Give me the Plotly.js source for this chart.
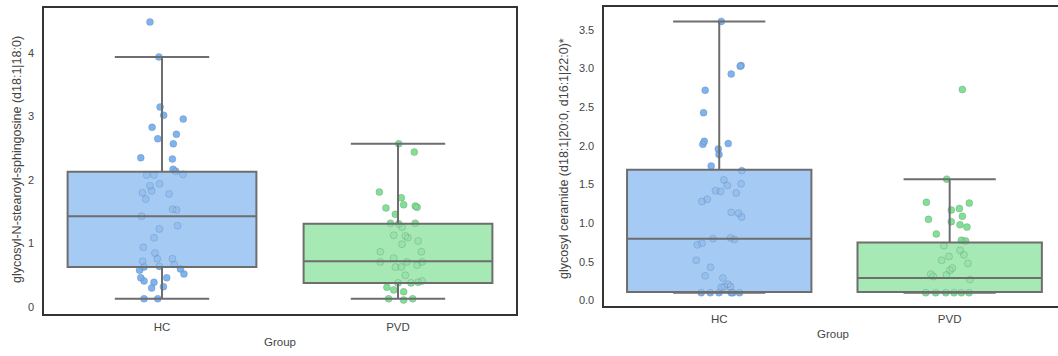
<!DOCTYPE html>
<html>
<head>
<meta charset="utf-8">
<script src="https://cdn.plot.ly/plotly-3.0.1.min.js"></script>
<style>
html,body{margin:0;padding:0;background:#fff;}
#chart{width:1058px;height:356px;}
</style>
</head>
<body>
<div id="chart"></div>
<script>
// ---------- data ----------
const categories = ["HC", "PVD"];
const xTitle = "Group";
const leftYTitle = "glycosyl-N-stearoyl-sphingosine (d18:1|18:0)";
const rightYTitle = "glycosyl ceramide (d18:1|20:0, d16:1|22:0)*";
const leftYTicks = [0, 1, 2, 3, 4];
const rightYTicks = [0, 0.5, 1, 1.5, 2, 2.5, 3, 3.5];

// box statistics [HC, PVD]
const leftQ1 = [0.63, 0.38];
const leftMedian = [1.43, 0.72];
const leftQ3 = [2.13, 1.31];
const leftLow = [0.13, 0.13];
const leftHigh = [3.94, 2.57];

const rightQ1 = [0.11, 0.11];
const rightMedian = [0.80, 0.29];
const rightQ3 = [1.69, 0.75];
const rightLow = [0.10, 0.10];
const rightHigh = [3.61, 1.57];

// individual samples (values) and their strip jitter (category units)
const leftHC = [4.49,3.94,3.15,3.02,2.96,2.83,2.72,2.65,2.57,2.35,2.33,2.17,2.14,2.09,2.08,2.08,1.91,1.94,1.80,1.83,1.78,1.70,1.54,1.53,1.43,1.28,1.23,1.09,0.94,0.85,0.76,0.72,0.76,0.63,0.64,0.67,0.58,0.60,0.52,0.46,0.41,0.39,0.46,0.30,0.32,0.13,0.13];
const leftHCJitter = [-0.051,-0.013,-0.008,0.007,0.090,-0.042,0.061,-0.018,0.048,-0.090,0.044,0.047,0.058,0.089,-0.065,-0.034,-0.051,-0.010,-0.083,-0.044,0.030,-0.069,0.045,0.062,-0.086,0.066,-0.011,-0.034,-0.079,-0.030,-0.020,-0.082,0.044,-0.076,-0.011,0.052,-0.095,0.078,0.093,-0.090,-0.076,-0.034,0.020,-0.044,0.006,-0.076,-0.018];

const leftPVD = [2.57,2.44,1.81,1.72,1.56,1.61,1.59,1.57,1.46,1.32,1.32,1.31,1.26,1.13,1.12,1.09,0.99,1.04,0.87,0.87,0.71,0.77,0.71,0.66,0.71,0.63,0.63,0.50,0.39,0.41,0.38,0.31,0.38,0.27,0.24,0.13,0.11,0.13];
const leftPVDJitter = [0.003,0.069,-0.079,0.014,-0.051,0.024,0.073,0.081,-0.011,0.073,-0.032,0.003,0.017,-0.018,0.031,0.042,0.017,0.085,0.099,-0.075,-0.075,-0.018,0.038,0.081,0.102,-0.011,0.014,0.031,0.085,0.102,0.055,-0.047,0.000,-0.018,0.024,-0.040,0.024,0.062];

const rightHC = [3.61,3.04,3.03,2.93,2.72,2.43,2.06,2.02,2.03,1.96,1.89,1.74,1.68,1.56,1.51,1.49,1.42,1.41,1.39,1.28,1.31,1.14,1.13,1.08,0.80,0.81,0.79,0.72,0.74,0.52,0.43,0.32,0.29,0.21,0.18,0.18,0.17,0.10,0.10,0.10,0.10,0.10,0.10];
const rightHCJitter = [0.009,0.095,0.091,0.052,-0.061,-0.068,-0.065,-0.071,0.039,-0.004,-0.001,-0.035,0.098,0.020,0.095,0.035,-0.016,0.006,0.074,-0.075,-0.052,0.052,0.084,0.097,-0.027,0.049,0.066,-0.095,-0.075,-0.100,-0.038,-0.061,0.016,0.038,0.023,0.049,0.009,-0.078,-0.039,-0.001,0.052,0.088,0.059];

const rightPVD = [2.73,1.57,1.27,1.26,1.17,1.19,1.05,1.09,1.02,0.98,0.95,0.86,0.78,0.77,0.71,0.65,0.57,0.59,0.52,0.48,0.42,0.39,0.34,0.31,0.33,0.27,0.10,0.10,0.10,0.10,0.10,0.10];
const rightPVDJitter = [0.055,-0.013,-0.101,0.085,0.007,0.042,-0.092,0.055,0.007,0.045,0.075,-0.058,0.051,0.069,-0.025,0.045,-0.003,0.062,-0.035,0.079,0.012,0.001,-0.082,-0.071,-0.014,0.088,-0.104,-0.061,-0.017,0.019,0.051,0.084];

// ---------- style ----------
const FONT = "Liberation Sans, Arial, sans-serif";
const TXT = "#454545";
const ptColor = ["#7db3f1", "#80e192"];
const boxFill = ["rgba(150,195,243,0.86)", "rgba(152,229,169,0.86)"];
const boxLine = "#6e6e6e";
const frame = "#333333";

function stripX(center, jit) { return jit.map(j => center + j); }

function pointsTrace(vals, jit, ci, xa, ya) {
  return {type: "scatter", mode: "markers", x: stripX(ci, jit), y: vals,
    xaxis: xa, yaxis: ya, hoverinfo: "skip", showlegend: false,
    marker: {size: 7, color: ptColor[ci], line: {width: 0}}};
}
function outlineTrace(vals, jit, ci, xa, ya) {
  return {type: "scatter", mode: "markers", x: stripX(ci, jit), y: vals,
    xaxis: xa, yaxis: ya, hoverinfo: "skip", showlegend: false,
    marker: {size: 7, color: "rgba(0,0,0,0)", line: {width: 0.8, color: "rgba(95,105,120,0.32)"}}};
}
function boxTrace(ci, q1, med, q3, lo, hi, xa, ya) {
  return {type: "box", x: [ci], q1: [q1[ci]], median: [med[ci]], q3: [q3[ci]],
    lowerfence: [lo[ci]], upperfence: [hi[ci]], width: 0.8, whiskerwidth: 0.5,
    boxpoints: false, fillcolor: boxFill[ci], line: {color: boxLine, width: 2},
    xaxis: xa, yaxis: ya, hoverinfo: "skip", showlegend: false};
}

const data = [
  pointsTrace(leftHC, leftHCJitter, 0, "x", "y"),
  pointsTrace(leftPVD, leftPVDJitter, 1, "x", "y"),
  pointsTrace(rightHC, rightHCJitter, 0, "x2", "y2"),
  pointsTrace(rightPVD, rightPVDJitter, 1, "x2", "y2"),
  boxTrace(0, leftQ1, leftMedian, leftQ3, leftLow, leftHigh, "x3", "y3"),
  boxTrace(1, leftQ1, leftMedian, leftQ3, leftLow, leftHigh, "x3", "y3"),
  boxTrace(0, rightQ1, rightMedian, rightQ3, rightLow, rightHigh, "x4", "y4"),
  boxTrace(1, rightQ1, rightMedian, rightQ3, rightLow, rightHigh, "x4", "y4"),
  outlineTrace(leftHC, leftHCJitter, 0, "x5", "y5"),
  outlineTrace(leftPVD, leftPVDJitter, 1, "x5", "y5"),
  outlineTrace(rightHC, rightHCJitter, 0, "x6", "y6"),
  outlineTrace(rightPVD, rightPVDJitter, 1, "x6", "y6")
];

const leftXRange = [-0.5, 1.5];
const rightXRange = [-0.5, 1.47];
const leftYRange = [-0.11, 4.71];
const rightYRange = [-0.071, 3.797];

function mainX(domain, range, mirror) {
  return {domain: domain, range: range, tickvals: [0, 1], ticktext: categories,
    showgrid: false, zeroline: false, showline: true, mirror: mirror,
    linecolor: frame, linewidth: 1.6, ticks: "", ticklabelstandoff: 2,
    tickfont: {family: FONT, size: 11.5, color: TXT}, fixedrange: true};
}
function mainY(domain, range, ticks, fmt, mirror, anchor) {
  return {domain: domain, range: range, tickvals: ticks, tickformat: fmt,
    showgrid: false, zeroline: false, showline: true, mirror: mirror,
    linecolor: frame, linewidth: 1.6, ticks: "", ticklabelstandoff: 6, anchor: anchor,
    tickfont: {family: FONT, size: 11, color: TXT}, fixedrange: true};
}
function overX(over, range, anchor) {
  return {overlaying: over, range: range, visible: false, anchor: anchor, fixedrange: true};
}
function overY(over, range, anchor) {
  return {overlaying: over, range: range, visible: false, anchor: anchor, fixedrange: true};
}

const leftXDom = [44/1058, 516/1058];
const rightXDom = [604/1058, 1];
const leftYDom = [1 - 314/356, 1 - 8/356];
const rightYDom = [1 - 306/356, 1 - 7/356];

const layout = {
  width: 1058, height: 356,
  margin: {l: 0, r: 0, t: 0, b: 0},
  paper_bgcolor: "#ffffff", plot_bgcolor: "rgba(0,0,0,0)",
  showlegend: false,
  font: {family: FONT, color: TXT},
  xaxis: Object.assign(mainX(leftXDom, leftXRange, true), {anchor: "y"}),
  yaxis: mainY(leftYDom, leftYRange, leftYTicks, "d", true, "x"),
  xaxis2: Object.assign(mainX(rightXDom, rightXRange, true), {anchor: "y2"}),
  yaxis2: mainY(rightYDom, rightYRange, rightYTicks, ".1f", false, "x2"),
  xaxis3: overX("x", leftXRange, "y3"),
  yaxis3: overY("y", leftYRange, "x3"),
  xaxis4: overX("x2", rightXRange, "y4"),
  yaxis4: overY("y2", rightYRange, "x4"),
  xaxis5: overX("x", leftXRange, "y5"),
  yaxis5: overY("y", leftYRange, "x5"),
  xaxis6: overX("x2", rightXRange, "y6"),
  yaxis6: overY("y2", rightYRange, "x6"),
  annotations: [
    {text: xTitle, xref: "paper", yref: "paper", x: 280/1058, y: 1 - 342/356,
     xanchor: "center", yanchor: "middle", showarrow: false,
     font: {family: FONT, size: 11.5, color: TXT}},
    {text: xTitle, xref: "paper", yref: "paper", x: 833/1058, y: 1 - 334/356,
     xanchor: "center", yanchor: "middle", showarrow: false,
     font: {family: FONT, size: 11.5, color: TXT}},
    {text: leftYTitle, xref: "paper", yref: "paper", x: 17/1058, y: 1 - 160/356,
     xanchor: "center", yanchor: "middle", showarrow: false, textangle: -90,
     font: {family: FONT, size: 12.5, color: TXT}},
    {text: rightYTitle, xref: "paper", yref: "paper", x: 564/1058, y: 1 - 159/356,
     xanchor: "center", yanchor: "middle", showarrow: false, textangle: -90,
     font: {family: FONT, size: 12.5, color: TXT}}
  ]
};

Plotly.newPlot("chart", data, layout, {staticPlot: true, displayModeBar: false});
</script>
</body>
</html>
